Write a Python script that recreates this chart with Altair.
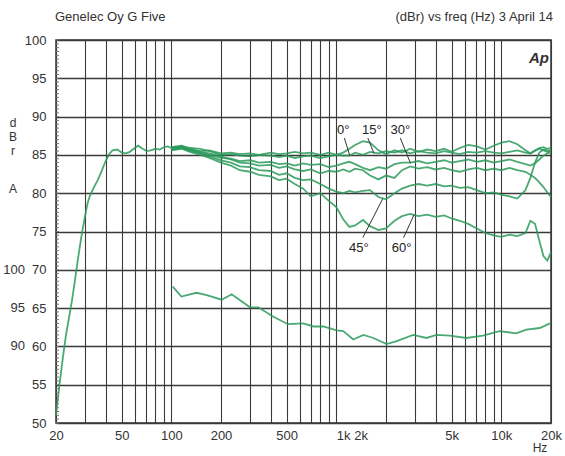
import altair as alt
import pandas as pd
import numpy as np

# ---------------- data ----------------
# shared low-frequency roll-off (Hz, dB)
lf_freq = [20, 21, 22, 23, 24, 25, 26, 27, 28, 29, 30, 31, 32, 34, 36, 38, 40, 42, 44, 47,
           50, 53, 56, 60, 63, 67, 71, 75, 80, 85, 90, 95, 100]
lf_db = [51.0, 55.0, 58.5, 61.5, 63.8, 66.0, 68.5, 71.0, 73.3, 75.3, 77.0, 78.6, 79.6, 80.8,
         81.8, 83.0, 84.2, 85.1, 85.6, 85.7, 85.3, 85.2, 85.4, 85.9, 86.2, 85.8, 85.5, 85.6,
         85.8, 85.7, 86.0, 86.1, 85.9]

# off-axis curves, 100 Hz .. 20 kHz
hf_freq = [100, 115, 130, 150, 170, 200, 230, 260, 300, 340, 400, 450, 500, 560, 630,
           700, 800, 900, 1000, 1100, 1200, 1300, 1450, 1600, 1800, 2000, 2250, 2500, 2800,
           3150, 3550, 4000, 4500, 5000, 5600, 6300, 7100, 8000, 9000, 10000, 11200, 12500,
           14000, 15000, 16000, 17000, 18000, 19000, 20000]
deg0 = [85.9, 86.0, 85.7, 85.5, 85.6, 85.2, 85.3, 85.1, 85.2, 85.0,
        85.3, 85.1, 85.2, 85.4, 85.2, 85.3, 85.0, 85.3, 85.0, 84.9,
        84.9, 85.3, 85.0, 85.4, 85.2, 85.5, 85.3, 85.6, 85.2, 85.5,
        85.3, 85.2, 85.5, 85.3, 85.1, 85.4, 85.3, 85.5, 85.3, 85.2,
        85.4, 85.6, 85.3, 85.2, 85.5, 85.8, 85.6, 85.4, 85.5]
deg15 = [86.0, 86.2, 85.9, 85.8, 85.5, 85.0, 85.1, 84.9, 84.8, 85.0,
         84.9, 84.7, 84.9, 84.6, 84.8, 84.9, 84.6, 84.8, 85.0, 85.3,
         85.8, 86.3, 86.8, 86.6, 85.6, 85.1, 85.6, 85.3, 85.8, 85.4,
         85.7, 85.5, 85.8, 85.4, 85.9, 86.3, 86.1, 85.7, 86.2, 86.6,
         86.8, 86.4, 85.6, 85.2, 85.6, 85.9, 86.0, 85.8, 85.9]
deg30 = [85.8, 86.0, 85.6, 85.3, 85.0, 84.6, 84.5, 84.2, 84.3, 84.0,
         84.1, 83.8, 83.9, 83.6, 83.9, 83.7, 83.8, 83.4, 83.6, 83.9,
         84.1, 83.8, 83.3, 83.0, 83.4, 83.2, 83.8, 84.0, 84.0, 84.2,
         83.9, 84.1, 84.3, 84.0, 84.2, 84.4, 84.1, 84.3, 84.0, 84.2,
         84.4, 84.1, 83.8, 83.6, 83.9, 84.4, 84.9, 85.2, 85.4]
deg37 = [85.9, 86.1, 85.8, 85.4, 85.2, 84.8, 84.4, 84.0, 83.9, 83.6,
         83.7, 83.3, 83.5, 83.1, 82.9, 83.1, 82.6, 82.9, 82.8, 83.1,
         82.8, 83.2, 83.0, 82.3, 81.8, 82.3, 82.0, 83.0, 83.5, 83.2,
         83.4, 83.1, 83.3, 83.0, 82.8, 83.1, 83.3, 83.0, 83.2, 83.0,
         83.3, 83.0, 82.8, 82.4, 82.0, 81.4, 80.8, 80.1, 79.5]
deg45 = [85.7, 85.9, 85.5, 85.2, 84.8, 84.3, 84.0, 83.5, 83.4, 83.0,
         82.9, 82.4, 82.6, 82.0, 81.7, 81.8, 81.2, 80.6, 80.2, 80.0,
         80.3, 80.1, 80.3, 80.4, 79.5, 79.2, 80.0, 80.6, 81.0, 81.2,
         81.0, 81.2, 80.9, 81.0, 80.7, 80.8, 80.4, 80.0, 80.1, 79.8,
         79.6, 79.3, 80.4, 82.0, 84.0, 85.3, 85.7, 85.6, 85.5]
deg60 = [85.6, 85.8, 85.4, 85.0, 84.6, 84.0, 83.6, 83.0, 82.8, 82.4,
         82.2, 81.7, 81.9, 81.2, 80.6, 79.6, 80.0, 79.0, 78.2, 76.6,
         75.6, 75.8, 76.5, 75.7, 75.2, 75.4, 76.4, 77.0, 77.3, 77.0,
         77.2, 76.9, 77.1, 76.7, 76.4, 76.0, 75.4, 74.8, 74.5, 74.3,
         74.6, 74.4, 74.8, 76.4, 76.0, 73.8, 71.8, 71.2, 72.3]

# lower trace (right-hand scale 90..100)
low_freq = [102, 115, 142, 164, 202, 232, 300, 337, 413, 509, 631, 726, 834, 1005, 1102,
            1267, 1458, 1676, 2017, 2322, 2922, 3517, 4047, 4870, 6140, 7736, 9740, 12300,
            14180, 17100, 19700]
low_db = [67.8, 66.5, 67.0, 66.7, 66.1, 66.8, 65.1, 65.1, 63.9, 62.9, 63.0, 62.6, 62.6,
          62.1, 62.0, 60.9, 61.5, 61.1, 60.3, 60.7, 61.5, 61.1, 61.5, 61.4, 61.1, 61.4,
          62.0, 61.7, 62.2, 62.4, 63.0]

# angle labels and pointer lines
angle_text = ["0°", "15°", "30°", "45°", "60°"]
angle_text_f = [1100, 1640, 2440, 1370, 2490]
angle_text_db = [88.2, 88.2, 88.2, 72.8, 72.8]
ptr_f1 = [1119, 1552, 2441, 1447, 2555]
ptr_db1 = [87.2, 87.2, 87.2, 74.2, 74.2]
ptr_f2 = [1206, 1690, 2817, 1914, 2961]
ptr_db2 = [84.9, 85.2, 83.9, 79.3, 77.2]

# axes
grid_freqs = [20, 30, 40, 50, 60, 70, 80, 90, 100, 200, 300, 400, 500, 600, 700, 800, 900,
              1000, 2000, 3000, 4000, 5000, 6000, 7000, 8000, 9000, 10000, 20000]
x_label_vals = [20, 50, 100, 200, 500, 1000, 5000, 10000, 20000]
x_label_txt = ["20", "50", "100", "200", "500", "1k 2k", "5k", "10k", "20k"]
y_vals = [50, 55, 60, 65, 70, 75, 80, 85, 90, 95, 100]
y2_vals = [70, 65, 60]
y2_txt = ["100", "95", "90"]
minor_ticks = list(np.arange(50, 100.01, 0.5))

# ---------------- build tables ----------------
rows = []
for f, v in zip(lf_freq, lf_db):
    rows.append({"curve": "lf", "freq": f, "db": v})
for name, vals in [("0", deg0), ("15", deg15), ("30", deg30), ("37", deg37),
                   ("45", deg45), ("60", deg60)]:
    for f, v in zip(hf_freq, vals):
        rows.append({"curve": name, "freq": f, "db": v})
for f, v in zip(low_freq, low_db):
    rows.append({"curve": "low", "freq": f, "db": v})
df = pd.DataFrame(rows)

lab_df = pd.DataFrame({"t": angle_text, "f": angle_text_f, "db": angle_text_db})
ptr_df = pd.DataFrame({"f1": ptr_f1, "d1": ptr_db1, "f2": ptr_f2, "d2": ptr_db2})
y2_df = pd.DataFrame({"db": y2_vals, "t": y2_txt})
mt_df = pd.DataFrame({"db": minor_ticks})

FONT = "Liberation Sans"
TXT = "#333333"
GREEN = "#2c9a5c"
W, H = 495, 383
FS = 13

xs = alt.Scale(type="log", domain=[20, 20000], nice=False)
ys = alt.Scale(domain=[50, 100], nice=False)

lab_expr = " : ".join(
    [f"datum.value == {v} ? '{t}'" for v, t in zip(x_label_vals, x_label_txt)]
) + " : ''"

X_AXIS = alt.Axis(values=grid_freqs, grid=True, gridColor="#3a3a3a", gridWidth=1.1,
                  ticks=False, domain=False, labelExpr=lab_expr, labelOverlap=False,
                  labelFlush=False, labelFont=FONT, labelFontSize=FS, labelColor=TXT,
                  labelPadding=6, title=None,
                  labelAlign={"condition": {"test": "datum.value == 1000", "value": "left"},
                              "value": "center"})
Y_AXIS = alt.Axis(values=y_vals, grid=True, gridColor="#3a3a3a", gridWidth=1.4,
                  ticks=False, domain=False, labelFont=FONT, labelFontSize=FS,
                  labelOverlap=False, labelFlush=False,
                  labelColor=TXT, labelPadding=10, title=None)


def X(field):
    return alt.X(field, type="quantitative", scale=xs, axis=X_AXIS)


def Y(field):
    return alt.Y(field, type="quantitative", scale=ys, axis=Y_AXIS)


curves = alt.Chart(df).mark_line(strokeWidth=1.8, opacity=0.85, color=GREEN).encode(
    x=X("freq"), y=Y("db"), detail="curve:N", order="freq:Q",
)

minor = alt.Chart(mt_df).mark_rule(color="#777777", strokeWidth=1).encode(
    x=alt.value(0), x2=alt.value(3), y=Y("db")
)

ptrs = alt.Chart(ptr_df).mark_rule(color="#333333", strokeWidth=1).encode(
    x=X("f1"), x2="f2:Q", y=Y("d1"), y2="d2:Q",
)

labels = alt.Chart(lab_df).mark_text(font=FONT, fontSize=FS, color="#222222").encode(
    x=X("f"), y=Y("db"), text="t:N"
)

y2 = alt.Chart(y2_df).mark_text(font=FONT, fontSize=FS, color=TXT, align="right",
                                baseline="middle").encode(
    x=alt.value(-31), y=Y("db"), text="t:N"
)


def note(txt, x, y, align="left", size=FS, weight="normal", style="normal"):
    return alt.Chart(pd.DataFrame({"t": [txt]})).mark_text(
        font=FONT, fontSize=size, color=TXT, align=align, baseline="alphabetic",
        fontWeight=weight, fontStyle=style
    ).encode(x=alt.value(x), y=alt.value(y), text="t:N")


notes = [
    note("Genelec Oy G Five", -1, -19),
    note("(dBr) vs freq (Hz) 3 April 14", 497, -19, align="right"),
    note("Ap", 493, 23, align="right", size=15, weight="bold", style="italic"),
    note("d", -43, 87, align="center", size=12),
    note("B", -43, 101, align="center", size=12),
    note("r", -43, 115, align="center", size=12),
    note("A", -43, 153, align="center", size=12),
    note("Hz", 484, 412, align="center", size=12),
]

chart = alt.layer(curves, minor, ptrs, labels, y2, *notes).properties(
    width=W, height=H,
    autosize=alt.AutoSizeParams(type="none"),
    padding={"left": 56, "top": 40, "right": 14, "bottom": 33},
    background="white",
).configure_view(stroke="#333333", strokeWidth=1.5)

chart.save("out.html", embed_options={"renderer": "svg", "actions": False})
